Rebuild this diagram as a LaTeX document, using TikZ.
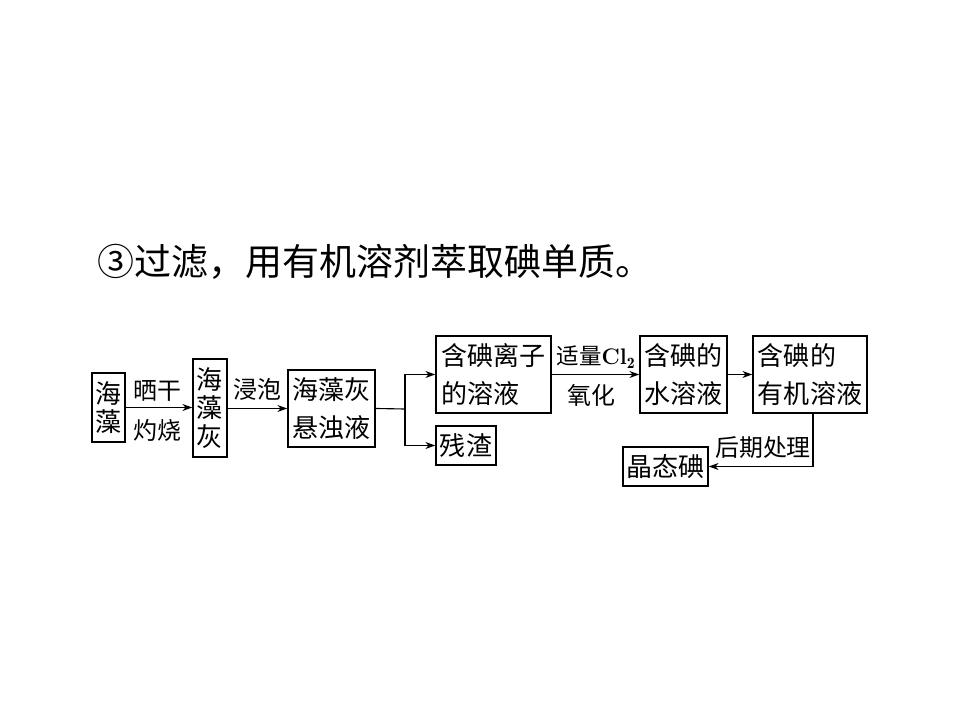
\documentclass[tikz,border=0pt]{standalone}
\usepackage{fontspec}
\newfontfamily\cjk{Noto Sans CJK SC}
\usetikzlibrary{positioning}
\usetikzlibrary{arrows.meta}

\tikzset{
  box/.style={draw, line width=1.1pt, inner sep=0pt, align=left,
    font=\cjk\fontsize{18.5}{27.6}\selectfont},
  vbox/.style={box, align=center, font=\cjk\fontsize{18.5}{20.2}\selectfont},
  lbl/.style={inner sep=0pt, font=\cjk\fontsize{17}{18}\selectfont},
  flow/.style={-{Stealth[length=7pt,width=5pt]}, line width=0.8pt},
}

\begin{document}
\begin{tikzpicture}[x=0.025cm,y=-0.025cm]
  \def\px{0.025cm}
  \useasboundingbox (0,0) rectangle (960,720);
  \node[anchor=west, inner sep=0pt, font=\cjk\fontsize{26.3}{30}\selectfont] (title) at (97,262) {③过滤，用有机溶剂萃取碘单质。};
  % boxes
  \node[vbox, minimum width=33*\px, minimum height=69*\px] (hz) at (108.5,407.5) {海\\藻};
  \node[vbox, minimum width=34*\px, minimum height=98*\px] (hzh) at (210,408) {海\\藻\\灰};
  \node[box, minimum width=87*\px, minimum height=77*\px] (xzy) at (331.5,408.5) {海藻灰\\悬浊液};
  \node[box, minimum width=115*\px, minimum height=77*\px] (hdl) at (493.5,374.5) {含碘离子\\的溶液};
  \node[box, minimum width=60*\px, minimum height=39*\px] (cz) at (466,445.5) {残渣};
  \node[box, minimum width=87*\px, minimum height=77*\px] (hds) at (683.5,374.5) {含碘的\\水溶液};
  \node[box, minimum width=114*\px, minimum height=77*\px] (hyr) at (810,374.5) {含碘的\\有机溶液};
  \node[box, minimum width=85*\px, minimum height=39*\px] (jtd) at (665.5,466.5) {晶态碘};
  % connectors
  \draw[flow] (hz.east) -- (hz.east -| hzh.west);
  \node[lbl] (shg) at (157,391) {晒干};
  \node[lbl] (zs) at (157,430) {灼烧};
  \draw[flow] (hzh.east |- xzy.west) -- (xzy.west);
  \node[lbl] (jp) at (257,389) {浸泡};
  \coordinate (br) at (405,409);
  \draw[line width=0.8pt] (xzy.east) -- (br);
  \draw[flow] (br) |- (hdl.west);
  \draw[flow] (br) |- (cz.west);
  \draw[flow] (hdl.east) -- (hds.west);
  \node[lbl, font=\cjk\fontsize{16}{18}\selectfont] (sl) at (596,357) {适量{\rmfamily\bfseries Cl}$_{\mathbf{2}}$};
  \node[lbl] (yh) at (591,395) {氧化};
  \draw[flow] (hds.east) -- (hyr.west);
  \coordinate (dn) at (813,413);
  \draw[flow] (dn) |- (jtd.east);
  \node[lbl] (hq) at (763,447) {后期处理};
\end{tikzpicture}
\end{document}
